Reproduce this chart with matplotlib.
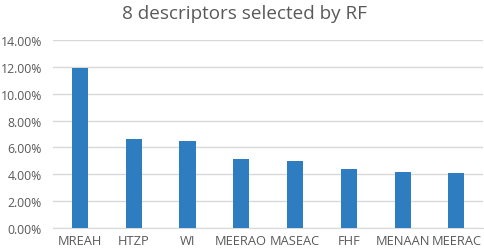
import numpy as np
import matplotlib.pyplot as plt
from matplotlib.ticker import FuncFormatter

descriptors = ['MREAH', 'HTZP', 'WI', 'MEERAO', 'MASEAC', 'FHF', 'MENAAN', 'MEERAC']
importance = [0.1195, 0.0665, 0.0648, 0.0517, 0.0497, 0.0443, 0.0420, 0.0413]

plt.rcParams['font.family'] = ['Open Sans', 'DejaVu Sans']

fig = plt.figure(figsize=(4.84, 2.51), dpi=100)
ax = fig.add_axes([0.1095, 0.0876, 0.889, 0.749])

x = np.arange(len(descriptors))
ax.bar(x, importance, width=0.3, color='#2E7DC1', zorder=3)

ax.set_xlim(-0.5, len(descriptors) - 0.5)
ax.set_ylim(0, 0.14)
ax.set_yticks(np.arange(0, 0.1401, 0.02))
ax.yaxis.set_major_formatter(FuncFormatter(lambda v, p: '%.2f%%' % (v * 100)))
ax.set_xticks(x)
ax.set_xticklabels(descriptors)

ax.grid(axis='y', color='#D9D9D9', linewidth=1, zorder=0)
for s in ['top', 'right', 'left']:
    ax.spines[s].set_visible(False)
ax.spines['bottom'].set_color('#D9D9D9')
ax.tick_params(axis='both', length=0, colors='#595959')
ax.tick_params(axis='y', labelsize=8.8, pad=8)
ax.tick_params(axis='x', labelsize=9.3, pad=4)

fig.text(0.505, 0.945, '8 descriptors selected by RF', ha='center', va='center',
         fontsize=13.6, color='#595959')

fig.savefig('out.png', dpi=100)
